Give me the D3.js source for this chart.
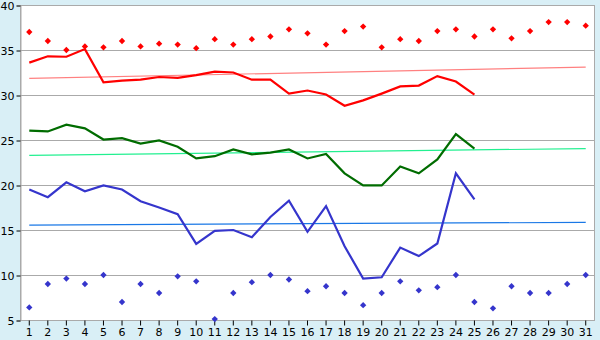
<!doctype html>
<html lang="en">
<head>
<meta charset="utf-8">
<title>daily temperatures</title>
<script src="https://d3js.org/d3.v7.min.js"></script>
<style>
  body { margin: 0; background: #d9eff6; }
  text { font-family: "DejaVu Sans", Verdana, sans-serif; font-size: 11px; fill: #000; }
</style>
</head>
<body>
<svg id="chart" width="600" height="340"></svg>
<script>
// days of the month
var days = d3.range(1, 32);
// line series (days 1-25)
var redLine = [33.6, 34.3, 34.25, 35.1, 31.4, 31.6, 31.7, 32.0, 31.9, 32.2, 32.6, 32.5, 31.7, 31.7, 30.15,
               30.5, 30.05, 28.8, 29.4, 30.15, 30.95, 31.05, 32.1, 31.5, 30.05];
var greenLine = [26.05, 25.95, 26.7, 26.3, 25.05, 25.2, 24.6, 24.95, 24.25, 22.95, 23.2, 23.95, 23.4, 23.6, 23.95,
                 22.95, 23.45, 21.3, 19.95, 19.95, 22.05, 21.3, 22.85, 25.65, 24.05];
var blueLine = [19.5, 18.65, 20.3, 19.3, 19.95, 19.5, 18.2, 17.5, 16.75, 13.45, 14.9, 15.0, 14.2, 16.45, 18.25,
                14.8, 17.65, 13.2, 9.6, 9.75, 13.05, 12.1, 13.5, 21.3, 18.4];
// diamond series (days 1-31)
var redPoints = [37.0, 36.0, 35.0, 35.4, 35.3, 36.0, 35.4, 35.7, 35.6, 35.2, 36.2, 35.6, 36.2, 36.5, 37.3, 36.85,
                 35.6, 37.1, 37.6, 35.3, 36.2, 36.0, 37.1, 37.3, 36.5, 37.3, 36.3, 37.1, 38.1, 38.1, 37.7];
var bluePoints = [6.4, 9.0, 9.6, 9.0, 10.0, 7.0, 9.0, 8.0, 9.85, 9.3, 5.1, 8.0, 9.2, 10.0, 9.5, 8.2,
                  8.75, 8.0, 6.65, 8.0, 9.3, 8.3, 8.65, 10.0, 7.0, 6.3, 8.75, 8.0, 8.0, 9.0, 10.0];
// trend lines: value at day 1 and day 31
var redTrend = [31.85, 33.1];
var greenTrend = [23.3, 24.05];
var blueTrend = [15.55, 15.85];
var yTicks = [5, 10, 15, 20, 25, 30, 35, 40];

var svg = d3.select("#chart");
var plotLeft = 20, plotRight = 595, plotTop = 5, plotBottom = 320;

var x = d3.scaleBand().domain(days).range([plotLeft, plotRight]).padding(0);
var y = d3.scaleLinear().domain([5, 40]).range([plotBottom, plotTop]);
var cx = function(d) { return x(d) + x.bandwidth() / 2; };

// plot background
svg.append("rect")
  .attr("x", plotLeft).attr("y", plotTop)
  .attr("width", plotRight - plotLeft).attr("height", plotBottom - plotTop)
  .attr("fill", "#fff");

// grid lines
svg.append("g")
  .selectAll("line")
  .data(yTicks)
  .enter().append("line")
    .attr("x1", plotLeft).attr("x2", plotRight)
    .attr("y1", function(d) { return Math.round(y(d)) + 0.5; })
    .attr("y2", function(d) { return Math.round(y(d)) + 0.5; })
    .attr("stroke", "#aaa");

// frame
svg.append("rect")
  .attr("x", plotLeft + 0.5).attr("y", plotTop + 0.5)
  .attr("width", plotRight - plotLeft - 1).attr("height", plotBottom - plotTop)
  .attr("fill", "none").attr("stroke", "#aaa");

// y axis
var yAxis = svg.append("g")
  .attr("transform", "translate(" + (plotLeft + 0.5) + ",0.5)")
  .call(d3.axisLeft(y).tickValues(yTicks).tickSize(4).tickPadding(2));
yAxis.select(".domain").attr("stroke", "#aaa");
yAxis.selectAll(".tick line").attr("stroke", "#000");

// x axis
var xAxis = svg.append("g")
  .attr("transform", "translate(0," + (plotBottom + 0.5) + ")")
  .call(d3.axisBottom(x).tickSize(5).tickPadding(3));
xAxis.select(".domain").remove();
xAxis.selectAll(".tick line").attr("stroke", "#000");
svg.selectAll(".tick text").style("font-family", "'DejaVu Sans', Verdana, sans-serif").style("font-size", "11px");

// trend lines
var trends = [[redTrend, "#ff8080"], [greenTrend, "#22f090"], [blueTrend, "#1a78e6"]];
trends.forEach(function(t) {
  svg.append("line")
    .attr("x1", cx(days[0])).attr("x2", cx(days[days.length - 1]))
    .attr("y1", y(t[0][0])).attr("y2", y(t[0][1]))
    .attr("stroke", t[1]).attr("stroke-width", 1.2);
});

// lines
var line = d3.line()
  .x(function(d, i) { return cx(days[i]); })
  .y(function(d) { return y(d); });
[[redLine, "#ff0000"], [greenLine, "#006c00"], [blueLine, "#3535cc"]].forEach(function(s) {
  svg.append("path")
    .datum(s[0])
    .attr("d", line)
    .attr("fill", "none")
    .attr("stroke", s[1])
    .attr("stroke-width", 2.2);
});

// diamonds (rotated squares)
var diamond = d3.symbol().type(d3.symbolSquare).size(20);
[[redPoints, "#ff0000"], [bluePoints, "#3535cc"]].forEach(function(s) {
  svg.append("g")
    .selectAll("path")
    .data(s[0])
    .enter().append("path")
      .attr("d", diamond)
      .attr("transform", function(d, i) { return "translate(" + cx(days[i]) + "," + y(d) + ") rotate(45)"; })
      .attr("fill", s[1]);
});
</script>
</body>
</html>
